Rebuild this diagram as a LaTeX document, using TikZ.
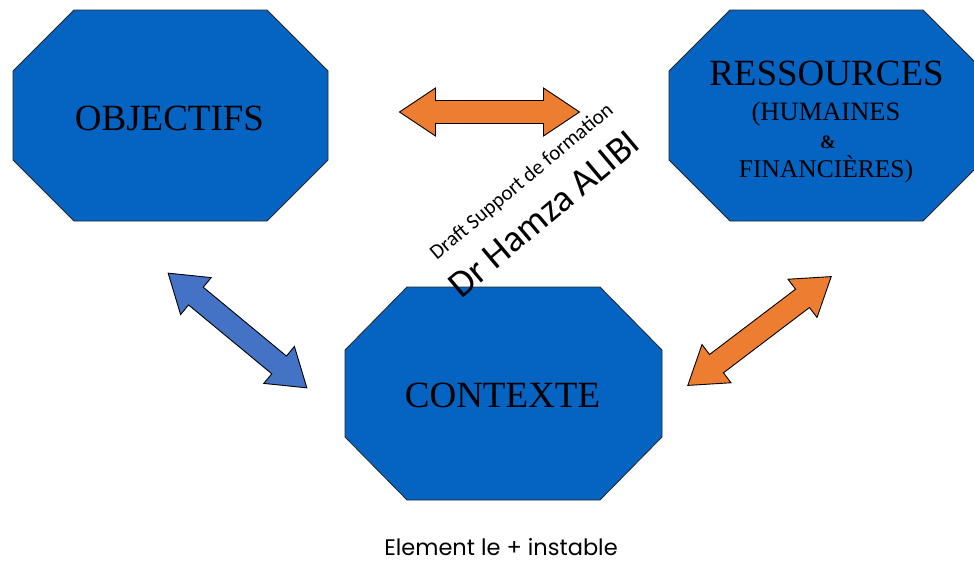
\documentclass[tikz,border=0pt]{standalone}
\usepackage{fontspec}
\setmainfont{Liberation Serif}
\newfontfamily\wmfont{Carlito}
\newfontfamily\capfont{Poppins}
\definecolor{octblue}{HTML}{0563C1}
\definecolor{arrblue}{HTML}{4472C4}
\definecolor{arrorange}{HTML}{ED7D31}
\tikzset{
  oct/.style={fill=octblue, draw=black!85, line width=0.8pt},
  dbl/.style={draw=black, line width=0.9pt, line join=miter},
  lbl/.style={anchor=base, inner sep=0pt, text=black, font=\fontsize{37}{37}\selectfont},
  wm/.style={inner sep=0pt, rotate=40, text=black},
  pics/dblarr/.style={code={
    \draw[dbl, fill=#1] (-90,0) -- (-54,-24) -- (-54,-11.5) -- (54,-11.5) -- (54,-24)
      -- (90,0) -- (54,24) -- (54,11.5) -- (-54,11.5) -- (-54,24) -- cycle;}}
}
\begin{document}
\begin{tikzpicture}[x=1pt, y=-1pt]
\clip (0,0) rectangle (974,562);
\fill[white] (0,0) rectangle (974,562);
% octagons
\draw[oct] (74,10) -- (267,10) -- (328,71) -- (328,160) -- (267,221) -- (74,221) -- (13,160) -- (13,71) -- cycle;
\draw[oct] (730,10) -- (923,10) -- (984,71) -- (984,160) -- (923,221) -- (730,221) -- (669,160) -- (669,71) -- cycle;
\draw[oct] (407,287) -- (600,287) -- (662,350) -- (662,437) -- (600,500) -- (407,500) -- (345,437) -- (345,350) -- cycle;
% labels
\node[lbl] (obj) at (169.5,130) {OBJECTIFS};
\node[lbl] (ctx) at (502.5,407) {CONTEXTE};
\node[lbl] (res) at (826.5,85) {RESSOURCES};
\node[lbl, font=\fontsize{26.5}{26.5}\selectfont] (hum) at (826,120) {(HUMAINES};
\node[lbl, font=\fontsize{19}{19}\selectfont\bfseries] (amp) at (828,148) {\&};
\node[lbl, font=\fontsize{25.5}{25.5}\selectfont] (fin) at (826,177) {FINANCIÈRES)};
% arrows
\pic at (489.5,112) {dblarr=arrorange};
\pic[rotate=-39.6] at (237.5,330.5) {dblarr=arrblue};
\pic[rotate=37.2] at (759.5,331) {dblarr=arrorange};
% watermark
\node[wm, font=\wmfont\fontsize{21}{21}\selectfont] (wm1) at (522,182) {Draft Support de formation};
\node[wm, font=\wmfont\fontsize{38}{38}\selectfont] (wm2) at (544,214) {Dr Hamza ALIBI};
% caption
\node[lbl, text depth=0pt, font=\capfont\fontsize{22.5}{22.5}\selectfont] (cap) at (501,555) {Element le + instable};
\end{tikzpicture}
\end{document}
